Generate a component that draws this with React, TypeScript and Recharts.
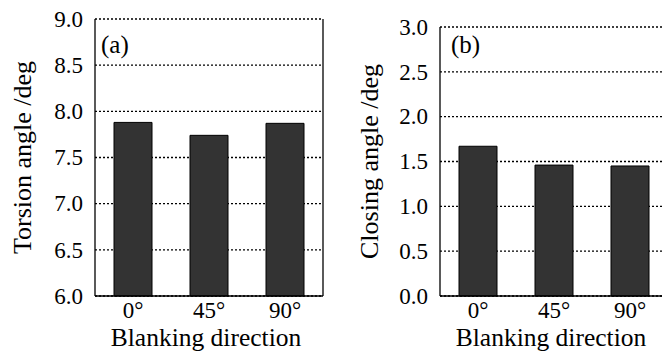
import React from 'react';
import { BarChart, Bar, XAxis, YAxis, CartesianGrid, Label } from 'recharts';

const directions = ['0°', '45°', '90°'];
const torsionAngle = [7.88, 7.74, 7.87];
const closingAngle = [1.67, 1.46, 1.45];
const torsionTicks = [6.0, 6.5, 7.0, 7.5, 8.0, 8.5, 9.0];
const closingTicks = [0.0, 0.5, 1.0, 1.5, 2.0, 2.5, 3.0];
const boundaryTicks = [1, 2];

const FONT = '"Liberation Serif", "Times New Roman", serif';
const INK = '#000';

const XTick = ({ x, y, payload }: any) => (
    <text x={x} y={y} dy="0.71em" textAnchor="middle" fill={INK} fontSize={23} style={{ fontFamily: FONT }}>
        {payload.value}
    </text>
);

const YTick = ({ x, y, payload }: any) => (
    <text x={x} y={y} dy="0.34em" textAnchor="end" fill={INK} fontSize={23} style={{ fontFamily: FONT }}>
        {Number(payload.value).toFixed(1)}
    </text>
);

interface PanelProps {
    left: number;
    top: number;
    values: number[];
    ticks: number[];
    yLabel: string;
    tag: string;
    yLabelX: number;
    tagDx: number;
}

function Panel({ left, top, values, ticks, yLabel, tag, yLabelX, tagDx }: PanelProps) {
    const data = directions.map((dir, i) => ({ dir, value: values[i] }));
    const domain: [number, number] = [ticks[0], ticks[ticks.length - 1]];

    return (
        <div style={{ position: 'absolute', left, top: 0, fontFamily: FONT }}>
            <BarChart width={331} height={353} data={data} margin={{ top, right: 7, bottom: 28, left: 35 }} barCategoryGap="25%">
                <CartesianGrid horizontal vertical={false} stroke={INK} strokeWidth={1.3} strokeDasharray="2 2" />
                <XAxis
                    xAxisId="edge"
                    type="number"
                    domain={[0, 3]}
                    ticks={boundaryTicks}
                    allowDataOverflow
                    height={1}
                    mirror
                    tick={false}
                    tickSize={6}
                    tickLine={{ stroke: INK, strokeWidth: 1.2 }}
                    axisLine={false}
                />
                <XAxis
                    xAxisId="cat"
                    dataKey="dir"
                    height={29}
                    interval={0}
                    tickLine={false}
                    tickSize={0}
                    tickMargin={6}
                    axisLine={{ stroke: INK, strokeWidth: 1.3 }}
                    tick={<XTick />}
                >
                    <Label
                        content={({ viewBox }: any) => (
                            <text x={viewBox.x + viewBox.width / 2 - 3} y={346} textAnchor="middle" fill={INK} fontSize={25.5} style={{ fontFamily: FONT }}>
                                Blanking direction
                            </text>
                        )}
                    />
                </XAxis>
                <YAxis
                    domain={domain}
                    ticks={ticks}
                    width={60}
                    tickLine={false}
                    tickSize={0}
                    tickMargin={12}
                    axisLine={{ stroke: INK, strokeWidth: 1.3 }}
                    tick={<YTick />}
                >
                    <Label
                        content={({ viewBox }: any) => {
                            const cy = viewBox.y + viewBox.height / 2;
                            return (
                                <text x={yLabelX} y={cy} transform={`rotate(-90 ${yLabelX} ${cy})`} textAnchor="middle" fill={INK} fontSize={26} style={{ fontFamily: FONT }}>
                                    {yLabel}
                                </text>
                            );
                        }}
                    />
                </YAxis>
                <YAxis
                    yAxisId="right"
                    orientation="right"
                    domain={domain}
                    width={1}
                    tick={false}
                    tickLine={false}
                    axisLine={{ stroke: INK, strokeWidth: 1.3 }}
                >
                    <Label
                        content={() => (
                            <text x={95 + tagDx} y={52.5} fill={INK} fontSize={25} style={{ fontFamily: FONT }}>
                                {tag}
                            </text>
                        )}
                    />
                </YAxis>
                <Bar xAxisId="cat" dataKey="value" fill="#333333" stroke={INK} strokeWidth={1} isAnimationActive={false} />
            </BarChart>
        </div>
    );
}

export default function App() {
    return (
        <div style={{ position: 'absolute', left: 0, top: 0, width: 662, height: 353, overflow: 'hidden', background: '#fff', fontFamily: FONT }}>
            <Panel left={0} top={19} values={torsionAngle} ticks={torsionTicks} yLabel="Torsion angle /deg" tag="(a)" yLabelX={30.5} tagDx={6} />
            <Panel left={345} top={27} values={closingAngle} ticks={closingTicks} yLabel="Closing angle /deg" tag="(b)" yLabelX={33} tagDx={11} />
        </div>
    );
}
